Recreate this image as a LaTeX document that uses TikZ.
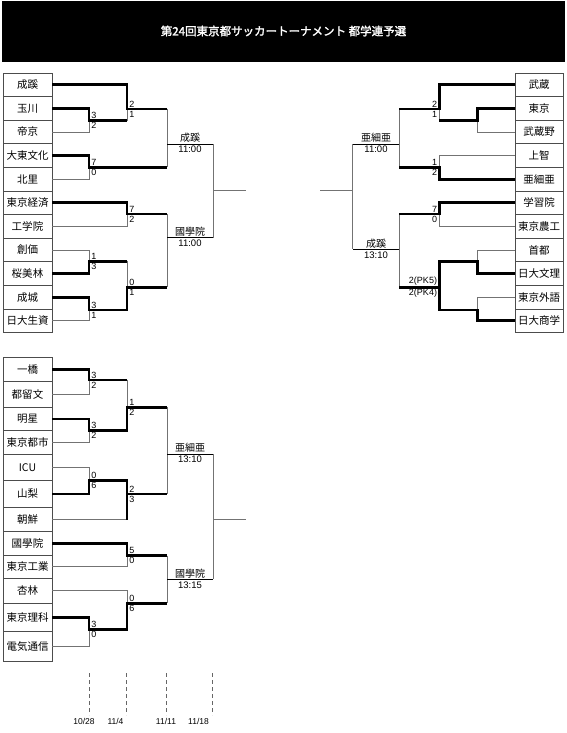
\documentclass[tikz,border=0pt]{standalone}
\usepackage{fontspec}
\setmainfont{Liberation Sans}
\newfontfamily\jp[AutoFakeBold=2]{Noto Sans CJK JP}
\usepackage{tikz}
\usetikzlibrary{calc}

\begin{document}
\begin{tikzpicture}[x=1pt, y=-1pt,
  team/.style={draw=black!70, line width=0.7pt, minimum width=49pt, minimum height=23.6pt, inner sep=0pt, font=\jp\fontsize{10.5}{12}\selectfont},
  win/.style={black, line width=2.8pt},
  lose/.style={black!55, line width=0.9pt},
  lbl/.style={black, line width=0.9pt},
  sc/.style={inner sep=0.3pt, font=\fontsize{9}{10}\selectfont},
  scup/.style={sc, anchor=south west, xshift=1.8pt, yshift=1.4pt},
  scdn/.style={sc, anchor=north west, xshift=1.8pt, yshift=-1.4pt},
  scupr/.style={sc, anchor=south east, xshift=-1.8pt, yshift=1.4pt},
  scdnr/.style={sc, anchor=north east, xshift=-1.8pt, yshift=-1.4pt},
  mname/.style={anchor=south, inner sep=0.5pt, yshift=0.6pt, font=\jp\fontsize{10}{11}\selectfont},
  mtime/.style={anchor=north, inner sep=0.5pt, yshift=-1.6pt, font=\fontsize{9.5}{10}\selectfont},
  day/.style={inner sep=0.5pt, font=\fontsize{8.5}{9}\selectfont}]

  \useasboundingbox (0,0) rectangle (567,733);

  % title bar
  \fill[black] (2,1) rectangle (565,62);
  \node[white, font=\jp\bfseries\fontsize{11.5}{13}\selectfont] (title) at (283.5,31) {第24回東京都サッカートーナメント 都学連予選};

  % teams
  \foreach \n [count=\i] in {成蹊,玉川,帝京,大東文化,北里,東京経済,工学院,創価,桜美林,成城,日大生資}
    \node[team] (L\i) at (27.5,{73+23.6*(\i-0.5)}) {\n};
  \foreach \n [count=\i] in {武蔵,東京,武蔵野,上智,亜細亜,学習院,東京農工,首都,日大文理,東京外語,日大商学}
    \node[team, minimum width=48pt] (R\i) at (539,{73+23.6*(\i-0.5)}) {\n};
  % bottom block: rows are not all the same height
  \foreach \ya/\yb/\n [count=\i] in {357.3/381.7/一橋, 381.7/407.3/都留文, 407.3/430.7/明星, 430.7/454/東京都市, 454/480.7/ICU, 480.7/507.3/山梨, 507.3/531.7/朝鮮, 531.7/555/國學院, 555/578.3/東京工業, 578.3/603.3/杏林, 603.3/631.7/東京理科, 631.7/661.7/電気通信}
    \node[team, minimum height={\yb-\ya}] (B\i) at (27.5,{(\ya+\yb)/2}) {\n};

  % match points
  \coordinate (a1) at (89,120.7);   \coordinate (a2) at (127,109);
  \coordinate (a3) at (89,167.3);   \coordinate (a4) at (167,144);
  \coordinate (a5) at (127,214);    \coordinate (a6) at (89,261.3);
  \coordinate (a7) at (89,310);     \coordinate (a8) at (127,287.3);
  \coordinate (a9) at (167,237.5);  \coordinate (a10) at (213,190.7);

  \coordinate (b1) at (477.3,120.7); \coordinate (b2) at (439.3,109);
  \coordinate (b3) at (439.3,167.3); \coordinate (b4) at (399.3,144);
  \coordinate (b5) at (439.3,214);   \coordinate (b6) at (477.3,261.3);
  \coordinate (b7) at (477.3,310);   \coordinate (b8) at (439.3,287.3);
  \coordinate (b9) at (399.3,249.3); \coordinate (b10) at (352.7,190.7);

  \coordinate (c1) at (89,380);     \coordinate (c2) at (89,430.7);
  \coordinate (c3) at (127,407.3);  \coordinate (c4) at (167,454);
  \coordinate (c5) at (89,480.7);   \coordinate (c6) at (127,494);
  \coordinate (c7) at (127,555.7);  \coordinate (c8) at (89,629.3);
  \coordinate (c9) at (127,603.3);  \coordinate (c10) at (167,579.3);
  \coordinate (c11) at (213,519.3);

  % top left: losers
  \draw[lose] (L3.east) -| (a1);
  \draw[lose] (L5.east) -| (a3);
  \draw[lose] (a1 -| a2) -- (a2);
  \draw[lose] (a2 -| a4) -- (a3 -| a4);
  \draw[lose] (L7.east) -| (a5);
  \draw[lose] (L8.east) -| (a6);
  \draw[lose] (L11.east) -| (a7);
  \draw[lose] (a6 -| a8) -- (a8);
  \draw[lose] (a5 -| a9) -- (a8 -| a9);
  \draw[lose] (a4 -| a10) -- (a9 -| a10);
  \draw[lose] (a10) -- ++(33,0);
  \draw[lbl] (a4) -- (a4 -| a10);
  \draw[lbl] (a9) -- (a9 -| a10);
  % top left: winners
  \draw[win] (L1.east) -| (a2) -- (a2 -| a4);
  \draw[win] (L2.east) -| (a1) -- (a1 -| a2);
  \draw[win] (L4.east) -| (a3) -- (a3 -| a4);
  \draw[win] (L6.east) -| (a5) -- (a5 -| a9);
  \draw[win] (L9.east) -| (a6) -- (a6 -| a8);
  \draw[win] (L10.east) -| (a7) -- (a7 -| a8) -- (a8) -- (a8 -| a9);

  % top right: losers
  \draw[lose] (R3.west) -| (b1);
  \draw[lose] (b1 -| b2) -- (b2);
  \draw[lose] (R4.west) -| (b3);
  \draw[lose] (b2 -| b4) -- (b3 -| b4);
  \draw[lose] (R7.west) -| (b5);
  \draw[lose] (R8.west) -| (b6);
  \draw[lose] (R10.west) -| (b7);
  \draw[lose] (b5 -| b9) -- (b8 -| b9);
  \draw[lose] (b4 -| b10) -- (b9 -| b10);
  \draw[lose] (b10) -- ++(-32.7,0);
  \draw[lbl] (b4) -- (b4 -| b10);
  \draw[lbl] (b9) -- (b9 -| b10);
  % top right: winners
  \draw[win] (R1.west) -| (b2) -- (b2 -| b4);
  \draw[win] (R2.west) -| (b1) -- (b1 -| b2);
  \draw[win] (R5.west) -| (b3) -- (b3 -| b4);
  \draw[win] (R6.west) -| (b5) -- (b5 -| b9);
  \draw[win] (R9.west) -| (b6) -- (b6 -| b8) -- (b7 -| b8) -- (b7) |- (R11.west);
  \draw[win] (b8) -- (b8 -| b9);

  % bottom left: losers
  \draw[lose] (B2.east) -| (c1);
  \draw[lose] (B4.east) -| (c2);
  \draw[lose] (c1 -| c3) -- (c3);
  \draw[lose] (B5.east) -| (c5);
  \draw[lose] (B7.east) -- (B7.east -| c6);
  \draw[lose] (c3 -| c4) -- (c6 -| c4);
  \draw[lose] (B9.east) -| (c7);
  \draw[lose] (B10.east) -| (c9);
  \draw[lose] (B12.east) -| (c8);
  \draw[lose] (c7 -| c10) -- (c9 -| c10);
  \draw[lose] (c4 -| c11) -- (c10 -| c11);
  \draw[lose] (c11) -- ++(33,0);
  \draw[lbl] (c4) -- (c4 -| c11);
  \draw[lbl] (c10) -- (c10 -| c11);
  % bottom left: winners
  \draw[win] (B1.east) -| (c1) -- (c1 -| c3);
  \draw[win] (B3.east) -| (c2) -- (c2 -| c3) -- (c3) -- (c3 -| c4);
  \draw[win] (B6.east) -| (c5) -- (c5 -| c6) -- (B7.east -| c6);
  \draw[win] (c6) -- (c6 -| c4);
  \draw[win] (B8.east) -| (c7) -- (c7 -| c10);
  \draw[win] (B11.east) -| (c8) -- (c8 -| c9) -- (c9) -- (c9 -| c10);

  % scores
  \foreach \m/\u/\d in {a1/3/2, a2/2/1, a3/7/0, a5/7/2, a6/1/3, a7/3/1, a8/0/1,
      c1/3/2, c2/3/2, c3/1/2, c5/0/6, c6/2/3, c7/5/0, c8/3/0, c9/0/6} {
    \node[scup] (\m-u) at (\m) {\u};
    \node[scdn] (\m-d) at (\m) {\d};
  }
  \foreach \m/\u/\d in {b2/2/1, b3/1/2, b5/7/0, b8/2(PK5)/2(PK4)} {
    \node[scupr] (\m-u) at (\m) {\u};
    \node[scdnr] (\m-d) at (\m) {\d};
  }

  % match labels
  \foreach \m/\e/\n/\t in {a4/a10/成蹊/11:00, a9/a10/國學院/11:00, b4/b10/亜細亜/11:00,
      b9/b10/成蹊/13:10, c4/c11/亜細亜/13:10, c10/c11/國學院/13:15} {
    \node[mname] (\m-n) at ($(\m)!.5!(\m -| \e)$) {\n};
    \node[mtime] (\m-t) at ($(\m)!.5!(\m -| \e)$) {\t};
  }

  % dates
  \foreach \x/\lx/\mo/\dy [count=\i] in {89.3/84/10/28, 126.7/115.5/11/4, 166.7/166/11/11, 212.7/198.5/11/18} {
    \draw[black!60, line width=0.8pt, dash pattern=on 4pt off 3pt] (\x,673) -- (\x,715);
    \node[day] (d\i) at (\lx,721) {\mo/\dy};
  }

\end{tikzpicture}
\end{document}
